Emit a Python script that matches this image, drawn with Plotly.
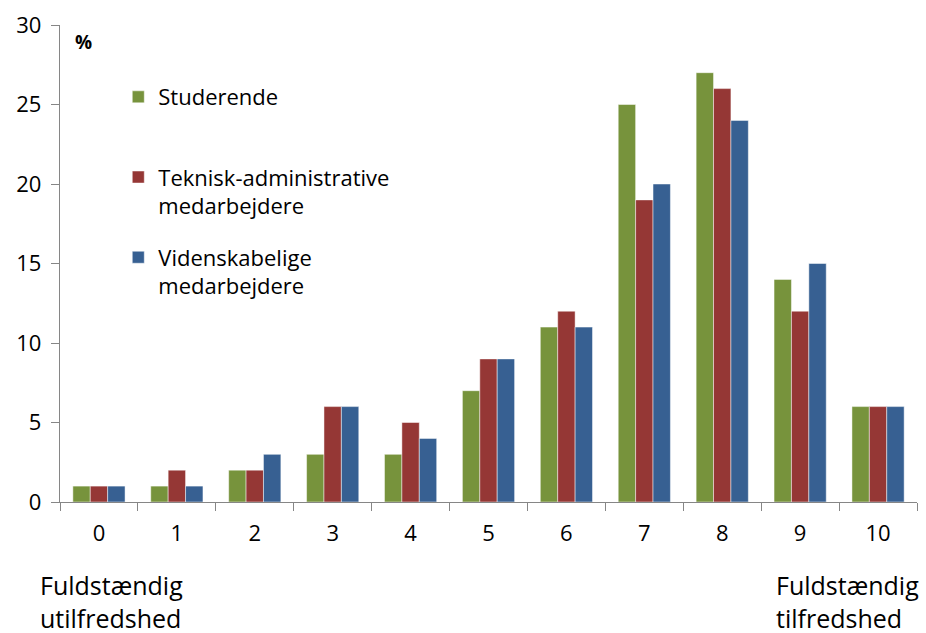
import plotly.graph_objects as go

# Satisfaction score (0 = fully dissatisfied, 10 = fully satisfied)
scores = ["0", "1", "2", "3", "4", "5", "6", "7", "8", "9", "10"]

# Share of respondents (%) per group
studerende = [1, 1, 2, 3, 3, 7, 11, 25, 27, 14, 6]
teknisk_adm = [1, 2, 2, 6, 5, 9, 12, 19, 26, 12, 6]
videnskabelige = [1, 1, 3, 6, 4, 9, 11, 20, 24, 15, 6]

series = [
    ("Studerende<br> ", studerende, "#77933C"),
    ("Teknisk-administrative<br>medarbejdere", teknisk_adm, "#953735"),
    ("Videnskabelige<br>medarbejdere", videnskabelige, "#376092"),
]

FONT = "Open Sans"
AXIS = "#868686"

fig = go.Figure()
for i, (name, vals, color) in enumerate(series):
    fig.add_trace(go.Bar(
        x=scores, y=vals, name=name, legendgroup=str(i),
        marker=dict(color=color, line=dict(color="rgba(255,255,255,0.6)", width=0.8)),
    ))

fig.update_layout(
    width=926, height=633,
    margin=dict(l=60, r=9, t=22, b=131),
    paper_bgcolor="white", plot_bgcolor="white",
    barmode="group", bargap=0.33, bargroupgap=0,
    font=dict(family=FONT, size=20, color="black"),
    showlegend=True,
    legend=dict(
        x=0.068, y=0.893, xanchor="left", yanchor="top",
        bgcolor="rgba(0,0,0,0)", valign="top",
        tracegroupgap=20, font=dict(family=FONT, size=22, color="black"),
    ),
    xaxis=dict(
        type="category", showline=True, linecolor=AXIS, linewidth=1.3,
        ticks="outside", tickson="boundaries", ticklen=8, tickcolor=AXIS,
        tickwidth=1.3, ticklabelstandoff=11, showgrid=False, zeroline=False,
        tickfont=dict(family=FONT, size=22, color="black"),
    ),
    yaxis=dict(
        range=[0, 30], tickvals=[0, 5, 10, 15, 20, 25, 30],
        showline=True, linecolor=AXIS, linewidth=1.3,
        ticks="outside", ticklen=8, tickcolor=AXIS, tickwidth=1.3,
        ticklabelstandoff=5, showgrid=False, zeroline=False,
        tickfont=dict(family=FONT, size=22, color="black"),
    ),
    annotations=[
        dict(text="<b>%</b>", xref="paper", yref="paper", x=0.015, y=0.965,
             xanchor="left", yanchor="middle", showarrow=False,
             font=dict(family=FONT, size=19, color="black")),
        dict(text="Fuldstændig<br>utilfredshed", xref="paper", yref="paper",
             x=-0.026, y=-0.135, xanchor="left", yanchor="top", align="left",
             showarrow=False, font=dict(family=FONT, size=25, color="black")),
        dict(text="Fuldstændig<br>tilfredshed", xref="paper", yref="paper",
             x=1.005, y=-0.135, xanchor="right", yanchor="top", align="left",
             showarrow=False, font=dict(family=FONT, size=25, color="black")),
    ],
)

fig.write_html("out.html")
